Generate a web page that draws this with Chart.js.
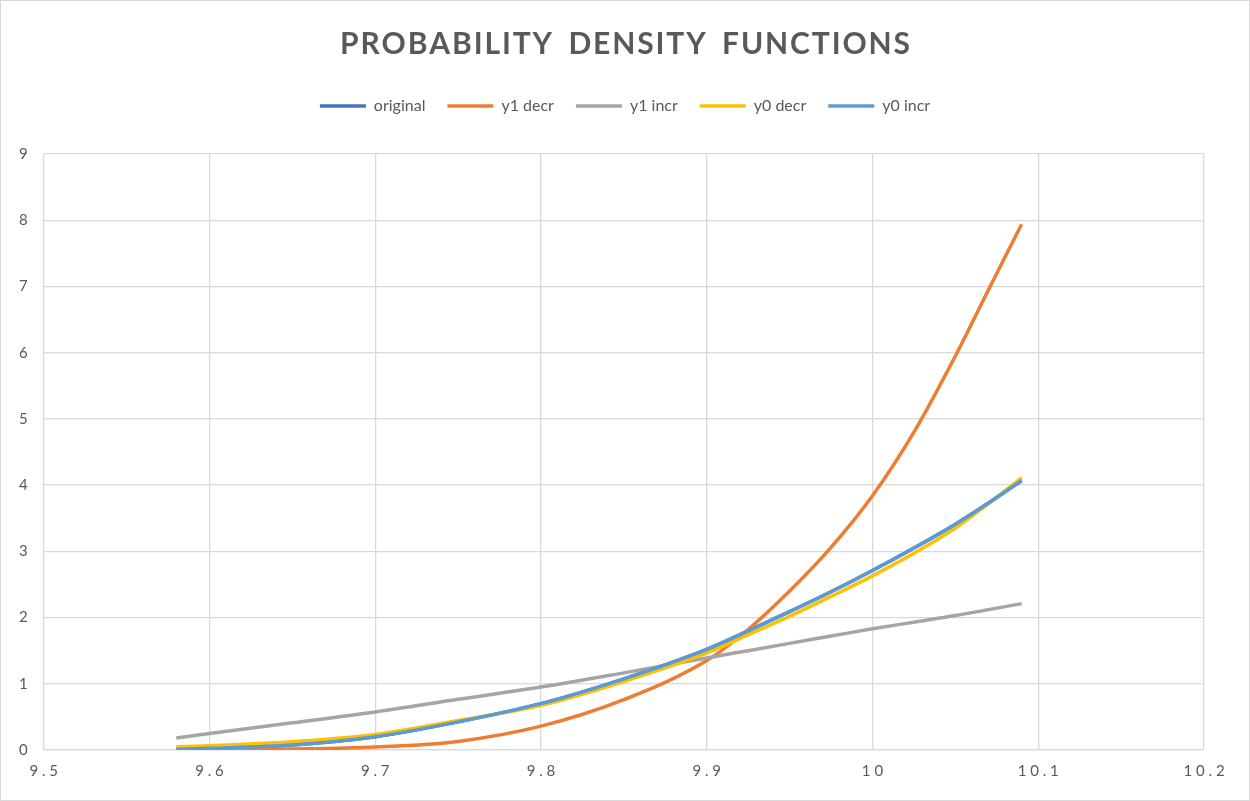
<!DOCTYPE html>
<html>
<head>
<meta charset="utf-8">
<script src="https://cdn.jsdelivr.net/npm/chart.js@4.4.1/dist/chart.umd.min.js"></script>
<style>
    html, body { margin: 0; padding: 0; background: #fff; }
    #wrap {
        width: 1250px;
        height: 801px;
        box-sizing: border-box;
        border: 1px solid #d9d9d9;
        position: relative;
    }
</style>
</head>
<body>
<div id="wrap"><canvas id="pdf"></canvas></div>
<script>
// x positions
const xs = [9.58, 9.60, 9.65, 9.70, 9.75, 9.80, 9.85, 9.90, 9.925, 9.95, 9.975, 10.00, 10.025, 10.05, 10.07, 10.09];

const original = [0.01, 0.025, 0.075, 0.20, 0.425, 0.70, 1.075, 1.52, 1.80, 2.09, 2.39, 2.71, 3.05, 3.41, 3.73, 4.07];
const y1Decr   = [0.0, 0.005, 0.015, 0.045, 0.13, 0.36, 0.76, 1.35, 1.82, 2.40, 3.06, 3.84, 4.80, 5.95, 6.95, 7.94];
const y1Incr   = [0.18, 0.25, 0.41, 0.575, 0.765, 0.95, 1.165, 1.39, 1.50, 1.61, 1.72, 1.83, 1.93, 2.03, 2.12, 2.21];
const y0Decr   = [0.05, 0.065, 0.125, 0.235, 0.445, 0.675, 1.035, 1.465, 1.74, 2.02, 2.32, 2.63, 2.97, 3.35, 3.72, 4.11];
const y0Incr   = [0.01, 0.025, 0.075, 0.20, 0.425, 0.70, 1.075, 1.52, 1.80, 2.09, 2.39, 2.71, 3.05, 3.41, 3.73, 4.07];

const seriesNames = ['original', 'y1 decr', 'y1 incr', 'y0 decr', 'y0 incr'];
const seriesColors = ['#4472C4', '#ED7D31', '#A5A5A5', '#FFC000', '#5B9BD5'];
const seriesValues = [original, y1Decr, y1Incr, y0Decr, y0Incr];

const xTicks = [9.5, 9.6, 9.7, 9.8, 9.9, 10, 10.1, 10.2];
const yTicks = [0, 1, 2, 3, 4, 5, 6, 7, 8, 9];

const font = "Lato, 'Open Sans', sans-serif";

const datasets = seriesNames.map(function (name, i) {
    return {
        label: name,
        data: xs.map((x, j) => ({ x: x, y: seriesValues[i][j] })),
        borderColor: seriesColors[i],
        backgroundColor: seriesColors[i],
        borderWidth: 3.5,
        pointRadius: 0,
        cubicInterpolationMode: 'monotone',
        // later series sit on top, like the original
        order: seriesNames.length - 1 - i
    };
});

// push the plot down below the legend
const legendGap = {
    id: 'legendGap',
    beforeInit: function (chart) {
        const fit = chart.legend.fit;
        chart.legend.fit = function () {
            fit.bind(chart.legend)();
            this.height += 30;
        };
    }
};

new Chart(document.getElementById('pdf'), {
    type: 'line',
    data: { datasets: datasets },
    plugins: [legendGap],
    options: {
        responsive: true,
        maintainAspectRatio: false,
        animation: false,
        layout: { padding: { left: 2, right: 2, top: 25, bottom: 8 } },
        plugins: {
            title: {
                display: true,
                text: 'P R O B A B I L I T Y   D E N S I T Y   F U N C T I O N S'.replace(/ (?! )/g, '\u200A'),
                color: '#595959',
                font: { family: font, size: 30, weight: 'bold' },
                padding: { top: 0, bottom: 14 }
            },
            legend: {
                position: 'top',
                labels: {
                    color: '#595959',
                    font: { family: font, size: 16 },
                    usePointStyle: true,
                    pointStyle: 'line',
                    pointStyleWidth: 46,
                    padding: 22,
                    sort: (a, b) => a.datasetIndex - b.datasetIndex
                }
            },
            tooltip: { enabled: false }
        },
        scales: {
            x: {
                type: 'linear',
                min: 9.5,
                max: 10.2,
                afterBuildTicks: function (axis) {
                    axis.ticks = xTicks.map(v => ({ value: v }));
                },
                grid: { color: '#d9d9d9', lineWidth: 1.3, drawTicks: false },
                border: { color: '#d9d9d9', width: 1.3 },
                ticks: {
                    color: '#595959',
                    font: { family: font, size: 15 },
                    padding: 12,
                    maxRotation: 0,
                    callback: v => String(Number(v.toFixed(2))).split('').join(' ')
                }
            },
            y: {
                min: 0,
                max: 9,
                afterBuildTicks: function (axis) {
                    axis.ticks = yTicks.map(v => ({ value: v }));
                },
                grid: { color: '#d9d9d9', lineWidth: 1.3, drawTicks: false },
                border: { display: false },
                ticks: {
                    color: '#595959',
                    font: { family: font, size: 15 },
                    padding: 16
                }
            },
            // empty right-hand margin, keeps title and legend centred on the page
            spacer: {
                type: 'linear',
                position: 'right',
                min: 0,
                max: 1,
                grid: { display: false },
                border: { display: false },
                ticks: { display: false },
                afterFit: function (axis) { axis.width = 43; }
            }
        }
    }
});
</script>
</body>
</html>
